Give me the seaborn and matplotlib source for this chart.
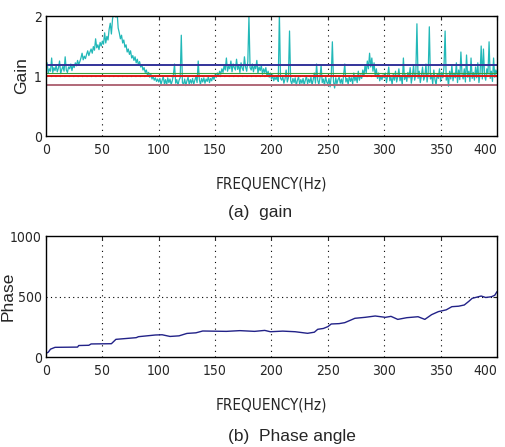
import numpy as np
import pandas as pd
import seaborn as sns
import matplotlib
matplotlib.use('Agg')
import matplotlib.pyplot as plt

# gain, 1 Hz steps from 0 to 400 Hz
gain = [
    1.10, 1.22, 1.05, 1.12, 1.08, 1.30, 1.06, 1.14, 1.09, 1.18,
    1.07, 1.13, 1.25, 1.04, 1.11, 1.16, 1.08, 1.32, 1.10, 1.06,
    1.15, 1.12, 1.20, 1.09, 1.18, 1.14, 1.22, 1.17, 1.26, 1.19,
    1.24, 1.30, 1.38, 1.27, 1.33, 1.29, 1.36, 1.42, 1.34, 1.40,
    1.45, 1.38, 1.49, 1.43, 1.62, 1.47, 1.52, 1.44, 1.56, 1.50,
    1.58, 1.53, 1.72, 1.55, 1.66, 1.60, 1.78, 1.88, 1.70, 1.95,
    2.05, 2.10, 1.98, 2.08, 1.80, 1.72, 1.62, 1.68, 1.55, 1.60,
    1.48, 1.52, 1.40, 1.45, 1.36, 1.42, 1.30, 1.34, 1.26, 1.32,
    1.22, 1.28, 1.18, 1.24, 1.15, 1.19, 1.10, 1.14, 1.06, 1.10,
    1.02, 1.06, 0.98, 1.03, 0.95, 0.99, 0.93, 0.97, 0.91, 0.95,
    0.90, 0.96, 0.86, 0.93, 0.99, 0.87, 0.94, 0.85, 0.97, 0.89,
    0.95, 0.86, 0.92, 1.02, 1.20, 0.88, 0.94, 0.84, 0.93, 0.97,
    1.68, 0.89, 0.86, 0.95, 0.84, 0.92, 0.98, 0.86, 0.94, 0.88,
    0.96, 0.86, 0.93, 0.99, 0.89, 1.25, 0.94, 0.86, 0.96, 0.90,
    0.97, 0.88, 0.95, 0.91, 0.99, 0.89, 0.96, 0.92, 1.00, 0.94,
    1.02, 0.98, 1.05, 1.00, 1.08, 1.03, 1.12, 1.06, 1.18, 1.10,
    1.30, 1.08, 1.16, 1.12, 1.25, 1.07, 1.20, 1.14, 1.10, 1.28,
    1.11, 1.18, 1.06, 1.22, 1.13, 1.09, 1.32, 1.15, 1.08, 1.24,
    1.99, 1.14, 1.10, 1.20, 1.07, 1.17, 1.12, 1.26, 1.05, 1.15,
    1.09, 1.18, 1.03, 1.12, 1.06, 1.14, 1.00, 1.08, 0.98, 1.05,
    0.95, 1.02, 0.92, 0.98, 0.94, 1.00, 0.91, 2.05, 0.96, 0.93,
    0.99, 0.88, 0.95, 1.10, 0.90, 0.97, 1.75, 0.92, 0.87, 0.96,
    0.89, 0.97, 0.84, 0.93, 0.99, 0.86, 0.94, 0.88, 0.96, 0.85,
    0.93, 1.00, 0.87, 0.95, 0.89, 0.98, 0.85, 0.94, 1.05, 0.88,
    1.20, 0.93, 0.86, 0.97, 1.18, 0.89, 0.95, 0.84, 0.99, 0.90,
    0.86, 0.96, 0.82, 1.00, 1.57, 0.91, 0.80, 0.97, 0.87, 0.94,
    0.98, 0.88, 0.95, 0.85, 1.02, 1.20, 0.90, 0.96, 0.86, 1.00,
    0.91, 0.97, 0.87, 1.05, 0.92, 0.99, 0.89, 1.08, 0.93, 1.02,
    0.96, 1.10, 1.00, 1.18, 1.05, 1.25, 1.12, 1.38, 1.15, 1.30,
    1.08, 1.22, 1.00, 1.12, 0.96, 1.05, 0.92, 0.99, 0.94, 1.02,
    0.97, 1.05, 0.89, 1.00, 1.15, 0.92, 0.98, 0.86, 1.03, 0.93,
    1.08, 0.90, 0.99, 1.12, 0.92, 1.00, 0.85, 1.30, 0.94, 1.02,
    0.91, 1.06, 0.97, 1.14, 0.88, 1.00, 1.18, 0.93, 1.03, 1.87,
    0.96, 1.08, 0.89, 1.01, 1.15, 0.93, 0.99, 1.20, 0.90, 1.05,
    1.82, 0.95, 1.02, 0.87, 1.10, 0.94, 0.85, 1.04, 0.96, 1.12,
    0.91, 1.06, 0.97, 1.15, 1.75, 0.93, 1.02, 0.83, 1.08, 0.95,
    1.18, 0.92, 1.05, 0.97, 1.22, 0.89, 1.10, 0.94, 1.40, 1.03,
    0.95, 1.12, 0.90, 1.35, 0.98, 1.08, 0.91, 1.30, 0.96, 1.06,
    0.93, 1.15, 0.97, 1.22, 0.89, 1.04, 1.50, 0.95, 1.45, 1.01,
    0.93, 1.12, 1.03, 1.57, 0.96, 1.08, 0.91, 1.30, 0.98, 1.10,
    1.05,
]
gain_freq = list(range(len(gain)))

# reference levels drawn across the gain plot
level_names = ['upper', 'mid', 'unity', 'lower']
level_values = [1.18, 1.045, 1.0, 0.855]
level_colors = ['#33339a', '#3aa03a', '#e01818', '#b06878']

# phase
phase_freq = [0, 2, 4, 8, 28, 29, 38, 40, 58, 60, 62, 80, 82, 97, 103, 110,
              118, 125, 133, 139, 160, 172, 185, 194, 199, 210, 221, 232,
              238, 241, 246, 250, 253, 260, 265, 274, 283, 292, 301, 306,
              312, 320, 330, 336, 342, 348, 355, 360, 366, 371, 375, 378,
              386, 390, 395, 398, 400]
phase = [30, 40, 65, 80, 82, 95, 97, 108, 110, 128, 146, 160, 168, 182, 184,
         170, 175, 195, 200, 215, 212, 218, 212, 220, 209, 214, 209, 196,
         205, 229, 236, 251, 273, 276, 284, 320, 328, 339, 328, 336, 311,
         325, 333, 311, 350, 375, 390, 416, 420, 430, 460, 485, 504, 492,
         498, 510, 540]

freq_ticks = [0, 50, 100, 150, 200, 250, 300, 350, 400]

sns.set_style('white')
plain = ['Liberation Sans', 'DejaVu Sans']
plt.rcParams['font.family'] = ['DejaVu Sans']
plt.rcParams['font.stretch'] = 'condensed'

fig = plt.figure(figsize=(5.05, 4.47), dpi=100)
ax1 = fig.add_axes([0.0911, 0.6957, 0.893, 0.2685])
ax2 = fig.add_axes([0.0911, 0.2013, 0.893, 0.2707])

df_gain = pd.DataFrame({'freq': gain_freq, 'gain': gain})
sns.lineplot(data=df_gain, x='freq', y='gain', ax=ax1, color='#22b8b8', lw=0.9)
for name, val, col in zip(level_names, level_values, level_colors):
    ax1.axhline(val, color=col, lw=1.4 if name != 'mid' else 0.8)

df_phase = pd.DataFrame({'freq': phase_freq, 'phase': phase})
sns.lineplot(data=df_phase, x='freq', y='phase', ax=ax2, color='#222288',
             lw=1.0)

for ax, ylim, yt, ylab, lx in [(ax1, (0, 2), [0, 1, 2], 'Gain', -0.037),
                               (ax2, (0, 1000), [0, 500, 1000], 'Phase', -0.068)]:
    ax.set_xlim(0, 400)
    ax.set_ylim(*ylim)
    ax.set_xticks(freq_ticks)
    ax.set_yticks(yt)
    ax.tick_params(direction='in', length=3, labelsize=10, top=True, right=True)
    ax.tick_params(axis='x', pad=5)
    ax.tick_params(axis='y', pad=3)
    ax.get_xticklabels()[-1].set_horizontalalignment('right')
    for x in freq_ticks[1:-1]:
        ax.axvline(x, color='black', lw=0.8, ls=(0, (1, 4)), zorder=0)
    ax.axhline(yt[1], color='black', lw=0.8, ls=(0, (1, 3)), zorder=0)
    for s in ax.spines.values():
        s.set_color('black')
        s.set_linewidth(1.0)
    ax.set_xlabel('FREQUENCY(Hz)', fontsize=11, labelpad=14)
    ax.set_ylabel(ylab, fontsize=12.5, family=plain, fontstretch='normal')
    ax.yaxis.set_label_coords(lx, 0.5)

fig.text(228 / 505, 1 - 213 / 447, '(a)  gain', fontsize=12.5, family=plain,
         fontstretch='normal', ha='left', va='center')
fig.text(228 / 505, 1 - 436 / 447, '(b)  Phase angle', fontsize=12.5,
         family=plain, fontstretch='normal', ha='left', va='center')

fig.savefig('out.png', dpi=100)
